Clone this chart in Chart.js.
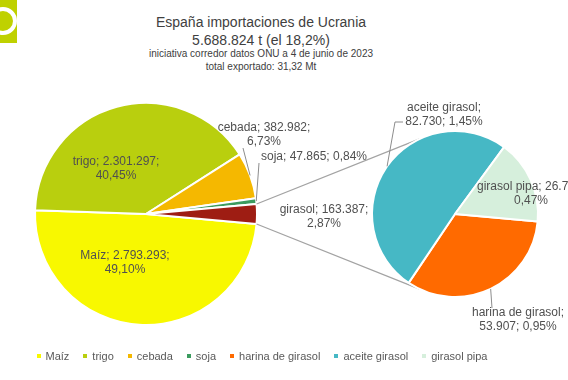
<!DOCTYPE html>
<html lang="es">
<head>
<meta charset="utf-8">
<title>España importaciones de Ucrania</title>
<script src="https://cdn.jsdelivr.net/npm/chart.js@4.4.0/dist/chart.umd.min.js"></script>
<style>
  html, body { margin: 0; padding: 0; background: #fff; }
  #wrap {
    position: relative; width: 568px; height: 380px; overflow: hidden;
    font-family: "Liberation Sans", Arial, sans-serif; color: #404040;
  }
  #wrap canvas { position: absolute; left: 0; top: 0; }
  .logo { position: absolute; left: 0; top: 0; width: 17px; height: 43px; background: #bfd100; overflow: hidden; }
  .logo i { position: absolute; left: -11px; top: 7px; width: 20px; height: 20px; border: 4px solid #fff; border-radius: 50%; }
  .ttl { position: absolute; left: 0; width: 522px; text-align: center; white-space: nowrap; }
  .t1 { top: 14px; font-size: 14px; line-height: 16px; }
  .t2 { top: 32px; font-size: 14px; line-height: 16px; }
  .t3 { top: 48px; font-size: 10px; line-height: 12px; }
  .t4 { top: 61px; font-size: 10px; line-height: 12px; }
  #legend {
    position: absolute; left: 0; top: 349px; width: 524px; height: 14px;
    display: flex; justify-content: center; gap: 14px;
    font-size: 11px; line-height: 14px; color: #595959; white-space: nowrap;
  }
  #legend span { display: flex; align-items: center; }
  #legend b { display: inline-block; width: 4px; height: 4px; margin-right: 5px; }
</style>
</head>
<body>
<div id="wrap">
  <div class="logo"><i></i></div>
  <div class="ttl t1">España importaciones de Ucrania</div>
  <div class="ttl t2">5.688.824 t (el 18,2%)</div>
  <div class="ttl t3">iniciativa corredor datos ONU a 4 de junio de 2023</div>
  <div class="ttl t4">total exportado: 31,32 Mt</div>
  <canvas id="mainPie" width="568" height="380"></canvas>
  <canvas id="subPie" width="568" height="380"></canvas>
  <div id="legend"></div>
</div>
<script>
const mainLabels = ["Maíz", "trigo", "cebada", "soja", "girasol"];
const mainValues = [2793293, 2301297, 382982, 47865, 163387];
const mainColors = ["#f8f800", "#b9cf0e", "#f5b800", "#3b9b5e", "#9e1d13"];

const subLabels = ["harina de girasol", "aceite girasol", "girasol pipa"];
const subValues = [53907, 82730, 26750];
const subColors = ["#ff6a00", "#46b8c5", "#d6efdc"];

const grandTotal = mainValues.reduce((s, v) => s + v, 0);
// the "girasol" slice sits centred on the right, like the Excel pie of pie
const startRotation = 90 + (mainValues[mainValues.length - 1] / grandTotal) * 180;

const fmtNum = v => String(v).replace(/\B(?=(\d{3})+(?!\d))/g, ".");
const fmtPct = v => (v / grandTotal * 100).toFixed(2).replace(".", ",") + "%";

const sliceLabels = {
  id: "sliceLabels",
  afterDatasetsDraw(chart, args, opts) {
    const ctx = chart.ctx;
    const meta = chart.getDatasetMeta(0);
    const values = chart.data.datasets[0].data;
    ctx.save();
    ctx.font = "12px 'Liberation Sans', Arial, sans-serif";
    ctx.fillStyle = "#505050";
    ctx.textAlign = "center";
    ctx.textBaseline = "middle";
    ctx.strokeStyle = "#8c8c8c";
    ctx.lineWidth = 1;
    meta.data.forEach((arc, i) => {
      const spot = opts.spots[i];
      const parts = [chart.data.labels[i] + ";", fmtNum(values[i]) + ";", fmtPct(values[i])];
      const lines = [parts.slice(0, spot.brk).join(" "), parts.slice(spot.brk).join(" ")].filter(Boolean);
      const x = arc.x + spot.dx;
      const y = arc.y + spot.dy;
      lines.forEach((t, k) => ctx.fillText(t, x, y + k * 13.5));
      if (spot.lead) {
        const mid = (arc.startAngle + arc.endAngle) / 2;
        ctx.beginPath();
        ctx.moveTo(x + spot.lead[0][0], y + spot.lead[0][1]);
        spot.lead.slice(1).forEach(p => ctx.lineTo(x + p[0], y + p[1]));
        ctx.lineTo(arc.x + Math.cos(mid) * arc.outerRadius, arc.y + Math.sin(mid) * arc.outerRadius);
        ctx.stroke();
      }
    });
    ctx.restore();
  }
};

const connectors = {
  id: "connectors",
  beforeDatasetsDraw(chart) {
    const src = mainChart.getDatasetMeta(0).data[mainValues.length - 1];
    const dst = chart.getDatasetMeta(0).data[0];
    const R = dst.outerRadius;
    const ctx = chart.ctx;
    ctx.save();
    ctx.strokeStyle = "#a3a3a3";
    ctx.lineWidth = 1.3;
    [src.startAngle, src.endAngle].forEach((a, k) => {
      const px = src.x + Math.cos(a) * src.outerRadius;
      const py = src.y + Math.sin(a) * src.outerRadius;
      const d = Math.hypot(px - dst.x, py - dst.y);
      const base = Math.atan2(py - dst.y, px - dst.x);
      const spread = Math.acos(R / d) - 0.06;
      const b = base + (k === 0 ? spread : -spread);
      ctx.beginPath();
      ctx.moveTo(px, py);
      ctx.lineTo(dst.x + Math.cos(b) * R, dst.y + Math.sin(b) * R);
      ctx.stroke();
    });
    ctx.restore();
  }
};

const mainChart = new Chart(document.getElementById("mainPie"), {
  type: "pie",
  data: {
    labels: mainLabels,
    datasets: [{ data: mainValues, backgroundColor: mainColors, borderColor: "#ffffff", borderWidth: 2 }]
  },
  options: {
    responsive: false,
    animation: false,
    events: [],
    rotation: startRotation,
    radius: 111,
    layout: { padding: { left: 31, right: 307, top: 99, bottom: 51 } },
    plugins: {
      legend: { display: false },
      tooltip: { enabled: false },
      sliceLabels: {
        spots: [
          { dx: -21, dy: 42, brk: 2 },
          { dx: -30, dy: -52, brk: 2 },
          { dx: 118, dy: -86, brk: 2, lead: [[-21, 20]] },
          { dx: 168, dy: -57, brk: 3, lead: [[-55, 6]] },
          { dx: 178, dy: -4, brk: 2 }
        ]
      }
    }
  },
  plugins: [sliceLabels]
});

const subChart = new Chart(document.getElementById("subPie"), {
  type: "pie",
  data: {
    labels: subLabels,
    datasets: [{ data: subValues, backgroundColor: subColors, borderColor: "#ffffff", borderWidth: 2 }]
  },
  options: {
    responsive: false,
    animation: false,
    events: [],
    rotation: startRotation,
    radius: 83,
    layout: { padding: { left: 365, right: 23, top: 124, bottom: 76 } },
    plugins: {
      legend: { display: false },
      tooltip: { enabled: false },
      sliceLabels: {
        spots: [
          { dx: 63, dy: 99, brk: 1, lead: [[-26, -5]] },
          { dx: -11, dy: -106, brk: 1, lead: [[-41, 14], [-49, 14]] },
          { dx: 76, dy: -27, brk: 2 }
        ]
      }
    }
  },
  plugins: [connectors, sliceLabels]
});

const legendNames = mainLabels.slice(0, 4).concat(subLabels);
const legendColors = mainColors.slice(0, 4).concat(subColors);
document.getElementById("legend").innerHTML = legendNames
  .map((name, i) => `<span><b style="background:${legendColors[i]}"></b>${name}</span>`)
  .join("");
</script>
</body>
</html>
